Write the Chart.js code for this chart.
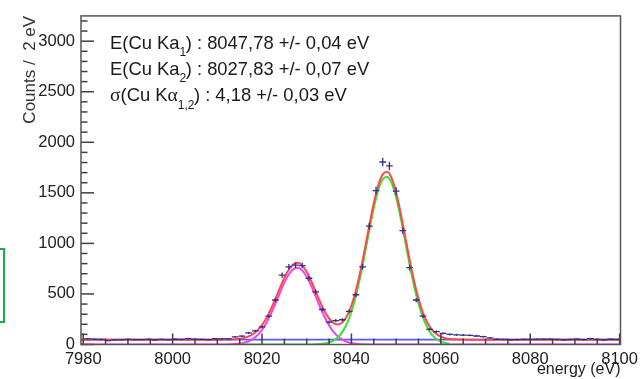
<!DOCTYPE html>
<html>
<head>
<meta charset="utf-8">
<script src="https://cdn.jsdelivr.net/npm/chart.js@4.4.1/dist/chart.umd.min.js"></script>
<style>
  html, body { margin: 0; padding: 0; background: #ffffff; }
  #wrap { position: relative; width: 643px; height: 379px; }
  #mark { position: absolute; left: 0; top: 248px; width: 3px; height: 71px;
          border-top: 2px solid #14b04a; border-right: 2px solid #14b04a; border-bottom: 2px solid #14b04a; }
</style>
</head>
<body>
<div id="wrap">
  <canvas id="c" width="643" height="379"></canvas>
  <div id="mark"></div>
</div>
<script>
// ---------- data ----------
// histogram bin centres (1.5 eV bins)
const binCenters = [
  7981, 7982.5, 7984, 7985.5, 7987, 7988.5, 7990, 7991.5, 7993, 7994.5,
  7996, 7997.5, 7999, 8000.5, 8002, 8003.5, 8005, 8006.5, 8008, 8009.5,
  8011, 8012.5, 8014, 8015.5, 8017, 8018.5, 8020, 8021.5, 8023, 8024.5,
  8026, 8027.5, 8029, 8030.5, 8032, 8033.5, 8035, 8036.5, 8038, 8039.5,
  8041, 8042.5, 8044, 8045.5, 8047, 8048.5, 8050, 8051.5, 8053, 8054.5,
  8056, 8057.5, 8059, 8060.5, 8062, 8063.5, 8065, 8066.5, 8068, 8069.5,
  8071, 8072.5, 8074, 8075.5, 8077, 8078.5, 8080, 8081.5, 8083, 8084.5,
  8086, 8087.5, 8089, 8090.5, 8092, 8093.5, 8095, 8096.5, 8098, 8099.5
];
const counts = [
  55, 53, 50, 38, 45, 48, 50, 49, 48, 51,
  47, 50, 49, 52, 50, 58, 53, 50, 48, 57,
  55, 56, 76, 83, 115, 135, 174, 281, 440, 687,
  768, 785, 781, 655, 521, 346, 222, 236, 245, 327,
  492, 768, 1171, 1522, 1805, 1766, 1516, 1126, 760, 440,
  280, 150, 128, 110, 100, 96, 93, 90, 84, 78,
  66, 52, 50, 47, 49, 51, 50, 53, 52, 54,
  50, 47, 50, 52, 49, 58, 50, 47, 52, 50
];

// fitted curves
const curveX = [
  7979.5, 7990, 8000,
  8008, 8009, 8010, 8011, 8012, 8013, 8014, 8015, 8016, 8017,
  8018, 8019, 8020, 8021, 8022, 8023, 8024, 8025, 8026, 8027,
  8028, 8029, 8030, 8031, 8032, 8033, 8034, 8035, 8036, 8037,
  8038, 8039, 8040, 8041, 8042, 8043, 8044, 8045, 8046, 8047,
  8048, 8049, 8050, 8051, 8052, 8053, 8054, 8055, 8056, 8057,
  8058, 8059, 8060, 8061, 8062, 8063, 8064, 8065, 8066,
  8080, 8090, 8100.2
];
const ka2Curve = [
  0, 0, 0,
  0, 0, 0.1, 0.4, 0.9, 2, 4.3, 8.9, 17.3, 31.9,
  55.7, 92.3, 144.8, 215.2, 303.2, 404.4, 511.1, 612, 694.2, 745.9,
  759.4, 732.4, 669.1, 579.1, 474.9, 368.9, 271.5, 189.3, 125, 78.2,
  46.4, 26, 13.9, 7, 3.3, 1.5, 0.6, 0.3, 0, 0,
  0, 0, 0, 0, 0, 0, 0, 0, 0, 0,
  0, 0, 0, 0, 0, 0, 0, 0, 0,
  0, 0, 0
];
const totalCurve = [
  48, 48, 48,
  48, 48, 48.1, 48.4, 48.9, 50, 52.3, 56.9, 65.3, 79.9,
  103.7, 140.3, 192.8, 263.2, 351.2, 452.4, 559.1, 660, 742.2, 793.9,
  807.4, 780.5, 717.4, 627.9, 524.9, 421.4, 329.3, 257.4, 212, 197.9,
  219.5, 280.6, 385.3, 534.5, 724.7, 945.5, 1177.9, 1396.8, 1573.5, 1682.9,
  1707.8, 1644.5, 1502.6, 1303.6, 1074.8, 843.4, 631.9, 453.9, 315.4, 214.9,
  146.7, 103.2, 77.3, 62.7, 55, 51.2, 49.4, 48.5, 48,
  48, 48, 48
];
const ka1X = [
  8015, 8020, 8025, 8029, 8030, 8031, 8032, 8033, 8034, 8035, 8036, 8037,
  8038, 8039, 8040, 8041, 8042, 8043, 8044, 8045, 8046, 8047,
  8048, 8049, 8050, 8051, 8052, 8053, 8054, 8055, 8056, 8057,
  8058, 8059, 8060, 8061, 8062
];
const ka1Curve = [
  0, 0, 0, 0.1, 0.3, 0.8, 2, 4.5, 9.8, 20.1, 39, 71.7,
  125.1, 206.6, 323.4, 479.5, 673.4, 896, 1129.3, 1348.5, 1525.5, 1634.9,
  1659.8, 1596.5, 1454.6, 1255.6, 1026.8, 795.4, 583.9, 405.9, 267.4, 166.9,
  98.7, 55.2, 29.3, 14.7, 7
];
const bgX = [7979.5, 8100.2];
const bgCurve = [48, 48];

// axis ticks
const xTickLabels = [7980, 8000, 8020, 8040, 8060, 8080, 8100];
const yTickLabels = [0, 500, 1000, 1500, 2000, 2500, 3000];
const halfBin = 0.75;

const fitLines = [
  [{t: 'E(Cu Ka'}, {t: '1', sub: true}, {t: ') : 8047,78 +/- 0,04 eV'}],
  [{t: 'E(Cu Ka'}, {t: '2', sub: true}, {t: ') : 8027,83 +/- 0,07 eV'}],
  [{t: 'σ', serif: true}, {t: '(Cu K'}, {t: 'α', serif: true}, {t: '1,2', sub: true}, {t: ') : 4,18 +/- 0,03 eV'}]
];

// ---------- helpers ----------
const zip = (xs, ys) => xs.map((x, i) => ({x: x, y: ys[i]}));
const histPts = zip(binCenters, counts);
const FONT = '"Liberation Sans", Arial, sans-serif';

const frameTicks = {
  id: 'frameTicks',
  afterDraw(chart) {
    const ctx = chart.ctx;
    const a = chart.chartArea;
    const x = chart.scales.x, y = chart.scales.y;
    ctx.save();
    ctx.strokeStyle = '#404040';
    ctx.lineWidth = 1.5;
    for (let v = 7980; v <= 8100; v += 5) {
      const px = x.getPixelForValue(v);
      const len = (v % 20 === 0) ? 11 : 6;
      ctx.beginPath();
      ctx.moveTo(px, a.bottom);
      ctx.lineTo(px, a.bottom - len);
      ctx.stroke();
    }
    for (let v = 0; v <= 3200; v += 100) {
      const py = y.getPixelForValue(v);
      const len = (v % 500 === 0) ? 13 : 6.5;
      ctx.beginPath();
      ctx.moveTo(a.left, py);
      ctx.lineTo(a.left + len, py);
      ctx.stroke();
    }
    ctx.strokeStyle = '#555555';
    ctx.strokeRect(a.left, a.top, a.right - a.left, a.bottom - a.top);
    ctx.restore();
  }
};

const fitText = {
  id: 'fitText',
  afterDraw(chart) {
    const ctx = chart.ctx;
    ctx.save();
    ctx.fillStyle = '#1a1a1a';
    ctx.textBaseline = 'alphabetic';
    const x0 = 110, baselines = [48.5, 74.5, 101];
    fitLines.forEach((line, i) => {
      let x = x0;
      line.forEach(seg => {
        if (seg.sub) {
          ctx.font = '12px ' + FONT;
          ctx.fillText(seg.t, x, baselines[i] + 7.5);
          x += ctx.measureText(seg.t).width - 0.5;
        } else {
          ctx.font = seg.serif ? '19.5px "Liberation Serif", "DejaVu Serif", serif'
                               : '18.4px ' + FONT;
          ctx.fillText(seg.t, x, baselines[i]);
          x += ctx.measureText(seg.t).width;
        }
      });
    });
    ctx.restore();
  }
};

const lineDs = (pts, color, width) => ({
  data: pts, showLine: true, borderColor: color, borderWidth: width,
  pointRadius: 0, pointHoverRadius: 0, fill: false,
  cubicInterpolationMode: 'monotone'
});

new Chart(document.getElementById('c'), {
  type: 'scatter',
  data: {
    datasets: [
      { // horizontal bin-width bars
        data: histPts, pointStyle: 'line', showLine: false,
        borderColor: '#2d3190', pointBorderColor: '#2d3190', pointBorderWidth: 1.3,
        pointRadius: (c) => {
          const s = c.chart.scales.x;
          return Math.abs(s.getPixelForValue(8000 + halfBin) - s.getPixelForValue(8000));
        }
      },
      { // vertical statistical error bars
        data: histPts, pointStyle: 'line', pointRotation: 90, showLine: false,
        borderColor: '#2d3190', pointBorderColor: '#2d3190', pointBorderWidth: 1.3,
        pointRadius: (c) => {
          const s = c.chart.scales.y; const v = c.raw ? c.raw.y : 0;
          return Math.max(0.6, Math.abs(s.getPixelForValue(v) - s.getPixelForValue(v + Math.sqrt(v))));
        }
      },
      lineDs(zip(curveX, totalCurve), '#ff4848', 2),
      lineDs(zip(ka1X, ka1Curve), '#38e038', 2),
      lineDs(zip(curveX, ka2Curve), '#ee44ee', 2),
      lineDs(zip(bgX, bgCurve), '#5a5aff', 1.6)
    ]
  },
  options: {
    responsive: false, animation: false, devicePixelRatio: 1,
    layout: { padding: { left: 0, right: 19, top: 11, bottom: 0 } },
    plugins: { legend: { display: false }, tooltip: { enabled: false } },
    scales: {
      x: {
        type: 'linear', min: 7979.5, max: 8100.2,
        afterBuildTicks: (s) => { s.ticks = xTickLabels.map(v => ({value: v})); },
        afterFit: (s) => { s.height = 34.5; },
        grid: { display: false, drawTicks: false }, border: { display: false },
        ticks: { callback: (v) => String(v), color: '#222', font: { size: 16.5, family: FONT }, padding: 5, maxRotation: 0, autoSkip: false },
        title: { display: true, text: 'energy (eV)', align: 'end', color: '#222',
                 font: { size: 16, family: FONT }, padding: { top: 0, bottom: 0 } }
      },
      y: {
        type: 'linear', min: 0, max: 3250,
        afterBuildTicks: (s) => { s.ticks = yTickLabels.map(v => ({value: v})); },
        afterFit: (s) => { s.width = 81; },
        grid: { display: false, drawTicks: false }, border: { display: false },
        ticks: { callback: (v) => String(v), color: '#222', font: { size: 16.5, family: FONT }, padding: 6, autoSkip: false },
        title: { display: true, text: 'Counts /  2 eV', align: 'end', color: '#333',
                 font: { size: 17, family: FONT }, padding: { top: 20, bottom: 0 } }
      }
    }
  },
  plugins: [frameTicks, fitText]
});
</script>
</body>
</html>
